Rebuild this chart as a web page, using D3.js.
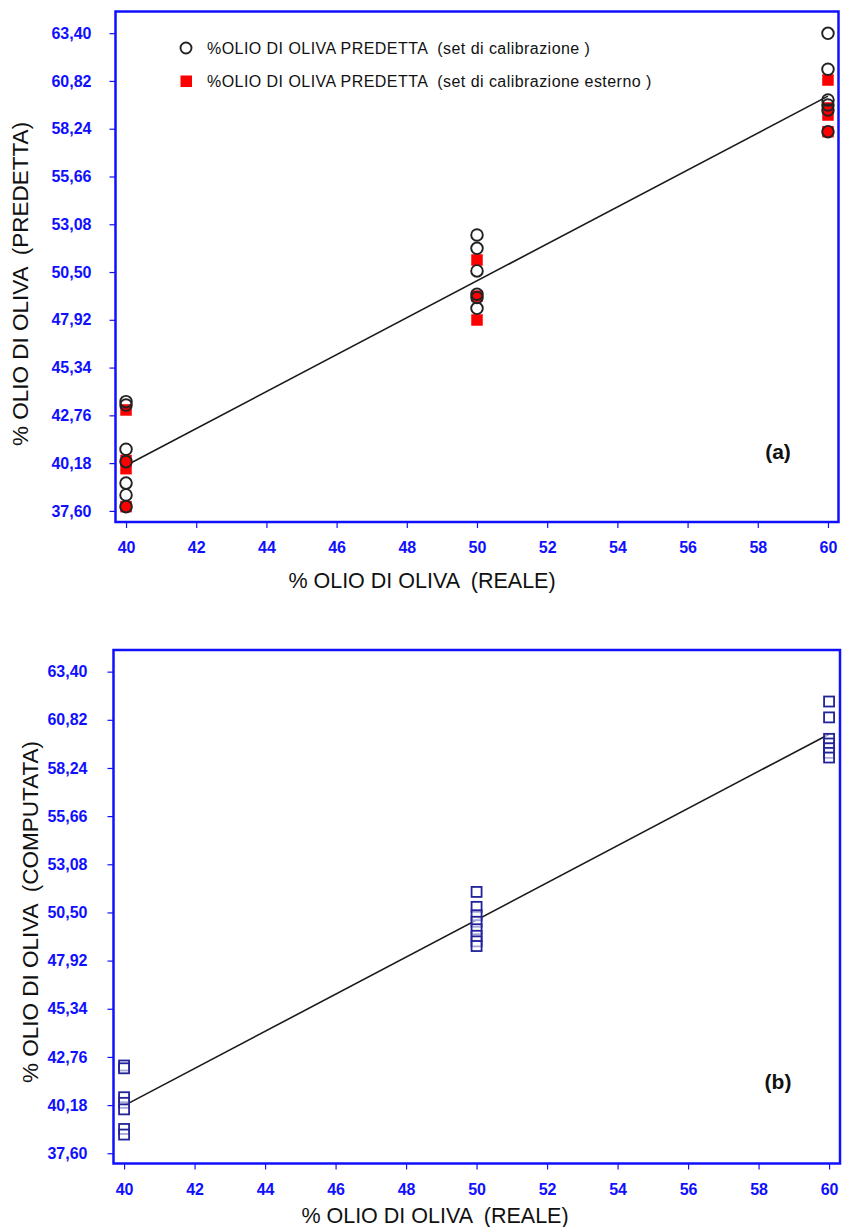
<!DOCTYPE html>
<html>
<head>
<meta charset="utf-8">
<script src="https://cdn.jsdelivr.net/npm/d3@7"></script>
<style>
  html, body { margin: 0; padding: 0; background: #fff; }
  svg { display: block; }
  text { font-family: "Liberation Sans", Arial, sans-serif; white-space: pre; }
</style>
</head>
<body>
<svg id="chart" width="846" height="1227"></svg>
<script>
// ---- data ----
const xTicks = [40, 42, 44, 46, 48, 50, 52, 54, 56, 58, 60];
const yTicks = [37.60, 40.18, 42.76, 45.34, 47.92, 50.50, 53.08, 55.66, 58.24, 60.82, 63.40];
const yTickLabels = ["37,60", "40,18", "42,76", "45,34", "47,92", "50,50", "53,08", "55,66", "58,24", "60,82", "63,40"];

// panel (a): predicted values, calibration set (circles)
const calX = [40, 40, 40, 40, 40, 40, 40, 50, 50, 50, 50, 50, 50, 60, 60, 60, 60, 60, 60];
const calY = [43.50, 43.32, 40.93, 40.26, 39.10, 38.46, 37.83,
              52.50, 51.78, 50.56, 49.30, 49.12, 48.54,
              63.39, 61.45, 59.79, 59.52, 59.25, 58.08];

// panel (a): predicted values, external set (squares)
const extX = [40, 40, 40, 40, 50, 50, 50, 60, 60, 60, 60];
const extY = [43.05, 40.32, 39.88, 37.83,
              51.15, 49.20, 47.91,
              60.87, 59.36, 58.98, 58.08];

// panel (a): fitted line
const fitAX = [40, 60];
const fitAY = [40.05, 60.00];

// panel (b): computed values (squares)
const compX = [40, 40, 40, 40, 40, 40, 40,
               50, 50, 50, 50, 50, 50, 50, 50,
               60, 60, 60, 60, 60, 60, 60];
const compY = [42.30, 42.15, 40.60, 40.30, 39.95, 38.90, 38.60,
               51.60, 50.80, 50.35, 50.00, 49.60, 49.25, 48.95, 48.70,
               61.80, 60.95, 59.80, 59.55, 59.30, 59.05, 58.80];

// panel (b): fitted line
const fitBX = [40, 60];
const fitBY = [40.15, 60.05];

const legendLabels = [
  "%OLIO DI OLIVA PREDETTA  (set di calibrazione )",
  "%OLIO DI OLIVA PREDETTA  (set di calibrazione esterno )"
];

// ---- drawing ----
const svg = d3.select("#chart");
const BLUE = "#1010ff";

function panel(cfg) {
  const x = d3.scaleLinear().domain(cfg.xDomain).range([cfg.left, cfg.right]);
  const y = d3.scaleLinear().domain(cfg.yDomain).range([cfg.bottom, cfg.top]);
  const g = svg.append("g");

  // y axis ticks and labels
  const ya = g.append("g")
    .attr("transform", `translate(${cfg.left},0)`)
    .call(d3.axisLeft(y).tickValues(yTicks).tickSize(6).tickPadding(cfg.yPad)
      .tickFormat((d, i) => yTickLabels[i]));
  ya.select(".domain").remove();
  ya.selectAll(".tick line").attr("stroke", BLUE).attr("stroke-width", 1.2);
  ya.selectAll(".tick text").attr("fill", BLUE).attr("font-size", 16)
    .attr("font-weight", "bold").attr("font-family", "Liberation Sans, Arial, sans-serif");

  // x axis ticks and labels
  const xa = g.append("g")
    .attr("transform", `translate(0,${cfg.bottom})`)
    .call(d3.axisBottom(x).tickValues(xTicks).tickSize(6).tickPadding(cfg.xPad)
      .tickFormat(d3.format("d")));
  xa.select(".domain").remove();
  xa.selectAll(".tick line").attr("stroke", BLUE).attr("stroke-width", 1.2);
  xa.selectAll(".tick text").attr("fill", BLUE).attr("font-size", 16)
    .attr("font-weight", "bold").attr("font-family", "Liberation Sans, Arial, sans-serif");

  // fitted line
  g.append("path")
    .datum(d3.zip(cfg.lineX, cfg.lineY))
    .attr("fill", "none").attr("stroke", "#1a1a1a").attr("stroke-width", 1.6)
    .attr("d", d3.line().x(d => x(d[0])).y(d => y(d[1])));

  cfg.marks(g, x, y);

  // frame
  g.append("rect")
    .attr("x", cfg.left).attr("y", cfg.top)
    .attr("width", cfg.right - cfg.left).attr("height", cfg.bottom - cfg.top)
    .attr("fill", "none").attr("stroke", BLUE).attr("stroke-width", 2.5);

  // axis titles
  g.append("text")
    .attr("x", cfg.xTitle[0]).attr("y", cfg.xTitle[1])
    .attr("text-anchor", "middle").attr("font-size", 21.5).attr("fill", "#111")
    .text(cfg.xLabel);
  g.append("text")
    .attr("transform", `translate(${cfg.yTitle[0]},${cfg.yTitle[1]}) rotate(-90)`)
    .attr("text-anchor", "middle").attr("font-size", 22.5).attr("fill", "#111")
    .text(cfg.yLabel);

  // panel tag
  g.append("text")
    .attr("x", cfg.tag[0]).attr("y", cfg.tag[1])
    .attr("text-anchor", "middle").attr("font-size", 21).attr("font-weight", "bold")
    .attr("fill", "#111").text(cfg.tagText);
  return { x, y, g };
}

// panel (a)
panel({
  left: 115.5, right: 838.5, top: 11.5, bottom: 522,
  xDomain: [39.70, 60.30], yDomain: [37.0, 64.57],
  yPad: 18, xPad: 14,
  lineX: fitAX, lineY: fitAY,
  xLabel: "% OLIO DI OLIVA  (REALE)", xTitle: [422, 588],
  yLabel: "% OLIO DI OLIVA  (PREDETTA)", yTitle: [28, 284],
  tag: [778, 459], tagText: "(a)",
  marks: (g, x, y) => {
    const s = 11.5;
    g.selectAll("rect.ext").data(d3.zip(extX, extY)).join("rect")
      .attr("class", "ext")
      .attr("x", d => x(d[0]) - s / 2).attr("y", d => y(d[1]) - s / 2)
      .attr("width", s).attr("height", s).attr("fill", "#ff0000");
    g.selectAll("circle.cal").data(d3.zip(calX, calY)).join("circle")
      .attr("class", "cal")
      .attr("cx", d => x(d[0])).attr("cy", d => y(d[1])).attr("r", 5.8)
      .attr("fill", "none").attr("stroke", "#222").attr("stroke-width", 1.9);

    // legend
    const lg = g.append("g");
    lg.append("circle").attr("cx", 186).attr("cy", 48).attr("r", 5.5)
      .attr("fill", "none").attr("stroke", "#222").attr("stroke-width", 1.9);
    lg.append("rect").attr("x", 180.5).attr("y", 75.5).attr("width", 11.5).attr("height", 11.5)
      .attr("fill", "#ff0000");
    lg.selectAll("text.leg").data(legendLabels).join("text")
      .attr("class", "leg")
      .attr("x", 207).attr("y", (d, i) => 54 + i * 33)
      .attr("font-size", 16).attr("letter-spacing", 0.45).attr("fill", "#111")
      .text(d => d);
  }
});

// panel (b)
panel({
  left: 113.5, right: 840, top: 650, bottom: 1163.5,
  xDomain: [39.70, 60.31], yDomain: [37.05, 64.56],
  yPad: 20, xPad: 14,
  lineX: fitBX, lineY: fitBY,
  xLabel: "% OLIO DI OLIVA  (REALE)", xTitle: [435, 1223],
  yLabel: "% OLIO DI OLIVA  (COMPUTATA)", yTitle: [38, 912],
  tag: [778, 1089], tagText: "(b)",
  marks: (g, x, y) => {
    const s = 10;
    g.selectAll("rect.comp").data(d3.zip(compX, compY)).join("rect")
      .attr("class", "comp")
      .attr("x", d => x(d[0]) - s / 2).attr("y", d => y(d[1]) - s / 2)
      .attr("width", s).attr("height", s)
      .attr("fill", "#fff").attr("fill-opacity", 0.6)
      .attr("stroke", "#22229a").attr("stroke-width", 1.8);
  }
});
</script>
</body>
</html>
